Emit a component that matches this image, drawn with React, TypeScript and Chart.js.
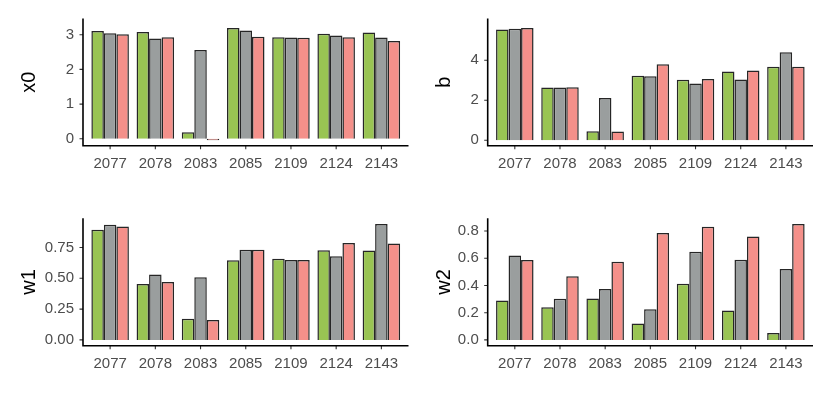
import React, { useEffect, useRef } from "react";
import { Chart, registerables } from "chart.js";

Chart.register(...registerables);

const categories = ["2077", "2078", "2083", "2085", "2109", "2124", "2143"];

const x0Green = [3.11, 3.08, 0.19, 3.19, 2.93, 3.03, 3.06];
const x0Grey = [3.04, 2.89, 2.56, 3.12, 2.92, 2.98, 2.92];
const x0Red = [3.01, 2.93, -0.04, 2.94, 2.91, 2.93, 2.82];

const bGreen = [5.54, 2.64, 0.45, 3.22, 3.03, 3.44, 3.67];
const bGrey = [5.58, 2.64, 2.11, 3.2, 2.84, 3.04, 4.4];
const bRed = [5.61, 2.65, 0.43, 3.8, 3.06, 3.49, 3.67];

const w1Green = [0.895, 0.453, 0.172, 0.646, 0.659, 0.728, 0.726];
const w1Grey = [0.935, 0.53, 0.509, 0.731, 0.648, 0.678, 0.94];
const w1Red = [0.921, 0.469, 0.161, 0.731, 0.648, 0.787, 0.782];

const w2Green = [0.29, 0.24, 0.305, 0.121, 0.412, 0.216, 0.051];
const w2Grey = [0.621, 0.303, 0.374, 0.225, 0.647, 0.589, 0.521];
const w2Red = [0.587, 0.468, 0.575, 0.785, 0.832, 0.759, 0.851];

const x0Ticks = [0, 1, 2, 3];
const x0TickLabels = ["0", "1", "2", "3"];
const bTicks = [0, 2, 4];
const bTickLabels = ["0", "2", "4"];
const w1Ticks = [0, 0.25, 0.5, 0.75];
const w1TickLabels = ["0.00", "0.25", "0.50", "0.75"];
const w2Ticks = [0, 0.2, 0.4, 0.6, 0.8];
const w2TickLabels = ["0.0", "0.2", "0.4", "0.6", "0.8"];

const GREEN = "#99c453";
const GREY = "#9a9e9e";
const RED = "#f4908a";
const FONT = "'Liberation Sans', Arial, sans-serif";

type PanelDef = {
  title: string;
  series: number[][];
  ticks: number[];
  tickLabels: string[];
  left: number;
  top: number;
  axisLeft: number;
  axisRight: number;
  axisTop: number;
  axisBottom: number;
};

const CW = 415;
const CH = 190;

const panels: PanelDef[] = [
  { title: "x0", series: [x0Green, x0Grey, x0Red], ticks: x0Ticks, tickLabels: x0TickLabels, left: 0, top: 0, axisLeft: 83, axisRight: 408.5, axisTop: 18.4, axisBottom: 145.8 },
  { title: "b", series: [bGreen, bGrey, bRed], ticks: bTicks, tickLabels: bTickLabels, left: 415, top: 0, axisLeft: 72.7, axisRight: 398, axisTop: 18.4, axisBottom: 145.8 },
  { title: "w1", series: [w1Green, w1Grey, w1Red], ticks: w1Ticks, tickLabels: w1TickLabels, left: 0, top: 190, axisLeft: 83, axisRight: 408.5, axisTop: 28.3, axisBottom: 155.7 },
  { title: "w2", series: [w2Green, w2Grey, w2Red], ticks: w2Ticks, tickLabels: w2TickLabels, left: 415, top: 190, axisLeft: 72.7, axisRight: 398, axisTop: 28.3, axisBottom: 155.7 },
];

function makeChart(canvas: HTMLCanvasElement, p: PanelDef) {
  const sp = (p.axisRight - p.axisLeft) / 7.2;
  const all = p.series.flat();
  const dmin = Math.min(0, ...all);
  const dmax = Math.max(0, ...all);
  const rng = dmax - dmin;
  const ymin = dmin - 0.05 * rng;
  const ymax = dmax + 0.05 * rng;
  const colors = [GREEN, GREY, RED];

  const ggPlugin = {
    id: "ggaxes",
    afterDatasetsDraw(chart: any) {
      const ctx = chart.ctx;
      const xs = chart.scales.x;
      const ys = chart.scales.y;
      ctx.save();
      ctx.strokeStyle = "#333";
      ctx.lineWidth = 1.1;
      ctx.beginPath();
      for (const v of p.ticks) {
        const py = ys.getPixelForValue(v);
        ctx.moveTo(p.axisLeft - 3.5, py);
        ctx.lineTo(p.axisLeft, py);
      }
      for (let i = 0; i < categories.length; i++) {
        const px = xs.getPixelForValue(i);
        ctx.moveTo(px, p.axisBottom);
        ctx.lineTo(px, p.axisBottom + 3.5);
      }
      ctx.stroke();
      ctx.strokeStyle = "#000";
      ctx.lineWidth = 1.6;
      ctx.beginPath();
      ctx.moveTo(p.axisLeft, p.axisTop);
      ctx.lineTo(p.axisLeft, p.axisBottom);
      ctx.moveTo(p.axisLeft - 0.8, p.axisBottom);
      ctx.lineTo(p.axisRight, p.axisBottom);
      ctx.stroke();
      ctx.fillStyle = "#000";
      ctx.font = `20px ${FONT}`;
      ctx.textAlign = "center";
      ctx.textBaseline = "alphabetic";
      ctx.translate(34.5, (p.axisTop + p.axisBottom) / 2);
      ctx.rotate(-Math.PI / 2);
      ctx.fillText(p.title, 0, 0);
      ctx.restore();
    },
  };

  return new Chart(canvas, {
    type: "bar",
    data: {
      labels: categories,
      datasets: p.series.map((s, i) => ({
        label: String(i),
        data: s,
        backgroundColor: colors[i],
        borderColor: "#262626",
        borderWidth: 1.5,
        categoryPercentage: 0.83,
        barPercentage: 1,
      })),
    },
    options: {
      animation: false,
      responsive: false,
      devicePixelRatio: 1,
      layout: {
        padding: { left: 0, top: p.axisTop, right: CW - (p.axisRight - 0.1 * sp), bottom: 0 },
      },
      plugins: { legend: { display: false }, tooltip: { enabled: false }, title: { display: false } },
      scales: {
        x: {
          type: "category",
          offset: true,
          grid: { display: false, drawTicks: false },
          border: { display: false },
          ticks: { autoSkip: false, maxRotation: 0, padding: 9, color: "#4d4d4d", font: { size: 15, family: FONT } },
          afterFit: (s: any) => {
            s.height = CH - p.axisBottom;
          },
        },
        y: {
          type: "linear",
          min: ymin,
          max: ymax,
          grid: { display: false, drawTicks: false },
          border: { display: false },
          ticks: {
            padding: 13.5,
            color: "#4d4d4d",
            font: { size: 15, family: FONT },
            callback: (_v: any, idx: number) => p.tickLabels[idx],
          },
          afterBuildTicks: (s: any) => {
            s.ticks = p.ticks.map((v) => ({ value: v }));
          },
          afterFit: (s: any) => {
            s.width = p.axisLeft + 0.1 * sp;
          },
        },
      },
    } as any,
    plugins: [ggPlugin],
  });
}

export default function App() {
  const refs = useRef<(HTMLCanvasElement | null)[]>([]);
  useEffect(() => {
    const charts = panels.map((p, i) => makeChart(refs.current[i] as HTMLCanvasElement, p));
    return () => charts.forEach((c) => c.destroy());
  }, []);
  return (
    <div style={{ position: "fixed", left: 0, top: 0, width: 830, height: 415, background: "#fff" }}>
      {panels.map((p, i) => (
        <canvas
          key={p.title}
          ref={(el) => {
            refs.current[i] = el;
          }}
          width={CW}
          height={CH}
          style={{ position: "absolute", left: p.left, top: p.top, width: CW, height: CH, display: "block" }}
        />
      ))}
    </div>
  );
}
